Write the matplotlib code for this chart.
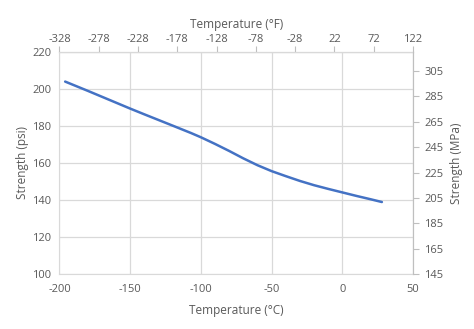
import numpy as np
import matplotlib.pyplot as plt

plt.rcParams['font.family'] = ['Open Sans', 'DejaVu Sans']
plt.rcParams['axes.unicode_minus'] = False

# strength vs temperature
temp_c = [-196, -180, -160, -150, -140, -120, -107, -100, -90, -80, -70,
          -60, -50, -40, -30, -20, -10, 0, 10, 20, 28]
strength_psi = [204.0, 199.0, 192.6, 189.4, 186.3, 180.2, 176.2, 173.9, 170.3, 166.5, 162.5,
                158.8, 155.6, 152.9, 150.3, 148.0, 146.0, 144.1, 142.2, 140.4, 138.9]

c_ticks = [-200, -150, -100, -50, 0, 50]
f_ticks = [-328, -278, -228, -178, -128, -78, -28, 22, 72, 122]
psi_ticks = [100, 120, 140, 160, 180, 200, 220]
mpa_ticks = [145, 165, 185, 205, 225, 245, 265, 285, 305]

txt = '#595959'
grid = '#d9d9d9'

fig = plt.figure(figsize=(4.74, 3.29), dpi=100)
ax = fig.add_axes([0.1255, 0.1672, 0.7458, 0.6748])

ax.plot(temp_c, strength_psi, color='#4472C4', lw=1.8, solid_capstyle='round')
ax.set_xlim(-200, 50)
ax.set_ylim(100, 220)
ax.set_xticks(c_ticks)
ax.set_yticks(psi_ticks)
ax.grid(True, color=grid, lw=0.9)
ax.set_axisbelow(True)
ax.tick_params(length=0, labelsize=8, colors=txt)
ax.tick_params(axis='x', pad=7)
ax.tick_params(axis='y', pad=6)
ax.set_xlabel('Temperature (°C)', fontsize=8.5, color=txt, labelpad=7)
ax.set_ylabel('Strength (psi)', fontsize=8.5, color=txt, labelpad=2)
for s in ax.spines.values():
    s.set_color(grid)

# top axis in Fahrenheit
top = ax.secondary_xaxis('top', functions=(lambda c: c * 9 / 5 + 32, lambda f: (f - 32) * 5 / 9))
top.set_xticks(f_ticks)
top.tick_params(length=4, direction='out', color='#bfbfbf', labelsize=8, colors=txt, pad=1)
top.set_xlabel('Temperature (°F)', fontsize=8.5, color=txt, labelpad=4)
top.spines['top'].set_color('#bfbfbf')

# right axis in MPa
right = ax.twinx()
right.set_ylim(145, 320)
right.set_yticks(mpa_ticks)
right.tick_params(length=4, direction='out', color='#bfbfbf', labelsize=8, colors=txt, pad=4)
right.set_ylabel('Strength (MPa)', fontsize=8.5, color=txt, labelpad=5)
for s in right.spines.values():
    s.set_visible(False)
right.spines['right'].set_visible(True)
right.spines['right'].set_color('#bfbfbf')

fig.savefig('out.png', dpi=100)
